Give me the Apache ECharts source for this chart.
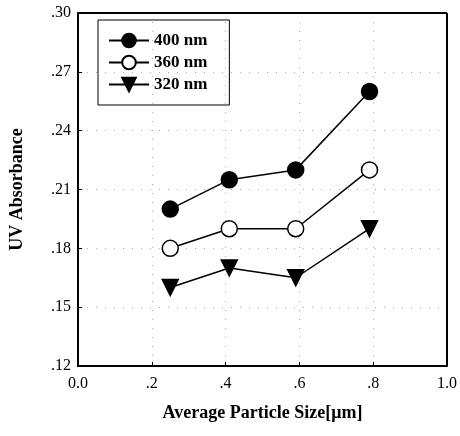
<!DOCTYPE html>
<html>
<head>
<meta charset="utf-8">
<script src="https://cdn.jsdelivr.net/npm/echarts@6/dist/echarts.min.js"></script>
<style>
  html, body { margin: 0; padding: 0; background: #fff; }
  #chart { width: 460px; height: 436px; }
</style>
</head>
<body>
<div id="chart"></div>
<script>
const sizes = [0.25, 0.41, 0.59, 0.79];
const abs400 = [0.200, 0.215, 0.220, 0.260];
const abs360 = [0.180, 0.190, 0.190, 0.220];
const abs320 = [0.160, 0.170, 0.165, 0.190];
const seriesNames = ['400 nm', '360 nm', '320 nm'];

const font = '"Liberation Serif", "DejaVu Serif", serif';
const chart = echarts.init(document.getElementById('chart'));

const pairs = vals => vals.map((v, i) => [sizes[i], v]);

const lineSeries = (name, vals, symbol, fill, rotate) => ({
    name: name,
    type: 'line',
    data: pairs(vals),
    symbol: symbol,
    symbolSize: 16,
    symbolRotate: rotate,
    lineStyle: { color: '#000', width: 1.5 },
    itemStyle: { color: fill, borderColor: '#000', borderWidth: 1.5 },
    emphasis: { disabled: true }
});

chart.setOption({
    animation: false,
    grid: { left: 78, right: 12, top: 13, bottom: 70 },
    legend: {
        orient: 'vertical',
        left: 98,
        top: 20,
        itemWidth: 40,
        itemHeight: 17,
        itemGap: 5,
        padding: [12, 22, 12, 10],
        borderColor: '#000',
        borderWidth: 1,
        textStyle: { fontFamily: font, fontSize: 17, fontWeight: 'bold', color: '#000' },
        data: seriesNames
    },
    xAxis: {
        type: 'value',
        min: 0,
        max: 1,
        interval: 0.2,
        name: 'Average Particle Size[μm]',
        nameLocation: 'middle',
        nameGap: 38,
        nameTextStyle: { fontFamily: font, fontSize: 18, fontWeight: 'bold', color: '#000' },
        axisLine: { lineStyle: { color: '#000', width: 2 } },
        axisTick: { inside: true, length: 4, lineStyle: { color: '#000' } },
        axisLabel: {
            fontFamily: font, fontSize: 16, color: '#000', margin: 10,
            formatter: v => (v === 0 || v === 1) ? v.toFixed(1) : v.toFixed(1).replace(/^0/, '')
        },
        splitLine: { show: true, lineStyle: { type: [1, 8], color: '#aaa', width: 1 } }
    },
    yAxis: {
        type: 'value',
        min: 0.12,
        max: 0.30,
        interval: 0.03,
        name: 'UV Absorbance',
        nameLocation: 'middle',
        nameGap: 52,
        nameTextStyle: { fontFamily: font, fontSize: 18, fontWeight: 'bold', color: '#000' },
        axisLine: { lineStyle: { color: '#000', width: 2 } },
        axisTick: { inside: true, length: 4, lineStyle: { color: '#000' } },
        axisLabel: {
            fontFamily: font, fontSize: 16, color: '#000', margin: 7,
            formatter: v => v.toFixed(2).replace(/^0/, '')
        },
        splitLine: { show: true, lineStyle: { type: [1, 8], color: '#aaa', width: 1 } }
    },
    series: [
        lineSeries(seriesNames[0], abs400, 'circle', '#000', 0),
        lineSeries(seriesNames[1], abs360, 'circle', '#fff', 0),
        lineSeries(seriesNames[2], abs320, 'triangle', '#000', 180),
        {
            type: 'line',
            data: [],
            markLine: {
                silent: true,
                symbol: 'none',
                label: { show: false },
                lineStyle: { color: '#000', width: 2, type: 'solid' },
                data: [{ xAxis: 1 }, { yAxis: 0.30 }]
            }
        }
    ]
});

window.addEventListener('resize', () => chart.resize());
</script>
</body>
</html>
